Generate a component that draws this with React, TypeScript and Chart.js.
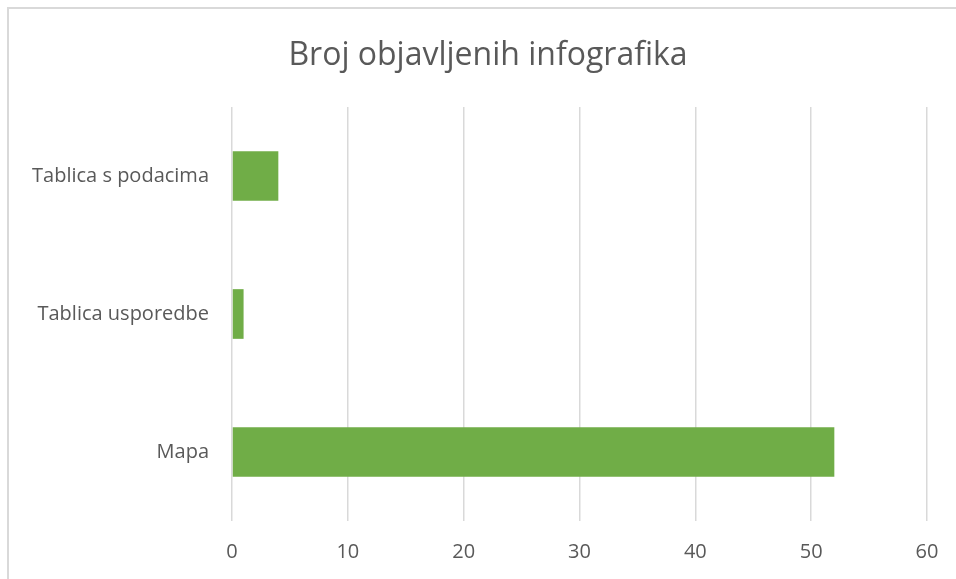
import React, { useEffect, useRef } from "react";
import { Chart, registerables } from "chart.js";

Chart.register(...registerables);

const title = "Broj objavljenih infografika";
const categories = ["Tablica s podacima", "Tablica usporedbe", "Mapa"];
const values = [4, 1, 52];
const xTicks = [0, 10, 20, 30, 40, 50, 60];

const FONT = "'Open Sans', sans-serif";
const GRAY = "#595959";

const titlePlugin = {
  id: "centerTitle",
  afterDraw(chart: any) {
    const c = chart.ctx;
    c.save();
    c.fillStyle = GRAY;
    c.font = `32px ${FONT}`;
    c.textAlign = "center";
    c.textBaseline = "middle";
    c.fillText(title, 478, 46);
    c.restore();
  },
};

export default function App() {
  const ref = useRef<HTMLCanvasElement | null>(null);
  useEffect(() => {
    document.documentElement.style.overflow = "hidden";
    document.body.style.overflow = "hidden";
    const ctx = ref.current!;
    const chart = new Chart(ctx, {
      type: "bar",
      data: {
        labels: categories,
        datasets: [
          {
            data: values,
            backgroundColor: "#70ad47",
            borderWidth: 0,
            categoryPercentage: 1,
            barPercentage: 0.36,
          },
        ],
      },
      plugins: [titlePlugin],
      options: {
        indexAxis: "y",
        responsive: false,
        animation: false,
        layout: { padding: { left: 0, right: 39, top: 97, bottom: 0 } },
        plugins: {
          legend: { display: false },
          tooltip: { enabled: false },
          title: { display: false },
        },
        scales: {
          x: {
            min: 0,
            max: 60,
            afterBuildTicks: (s: any) => {
              s.ticks = xTicks.map((v) => ({ value: v }));
            },
            afterFit: (s: any) => {
              s.height = 65;
            },
            grid: { color: "#d9d9d9", lineWidth: 1.5, drawTicks: false },
            border: { display: false },
            ticks: {
              color: GRAY,
              font: { family: FONT, size: 20, lineHeight: 1.2 },
              padding: 19,
            },
          },
          y: {
            afterFit: (s: any) => {
              s.width = 222;
            },
            grid: { display: false, drawTicks: false },
            border: { display: false },
            ticks: {
              color: GRAY,
              font: { family: FONT, size: 20 },
              padding: 23,
            },
          },
        },
      },
    });
    return () => chart.destroy();
  }, []);
  return (
    <div
      style={{
        position: "absolute",
        left: 7,
        top: 7,
        width: 960,
        height: 580,
        boxSizing: "border-box",
        border: "2px solid #d9d9d9",
        background: "#fff",
      }}
    >
      <canvas ref={ref} width={956} height={576} style={{ display: "block", marginLeft: 1, marginTop: 1 }} />
    </div>
  );
}
